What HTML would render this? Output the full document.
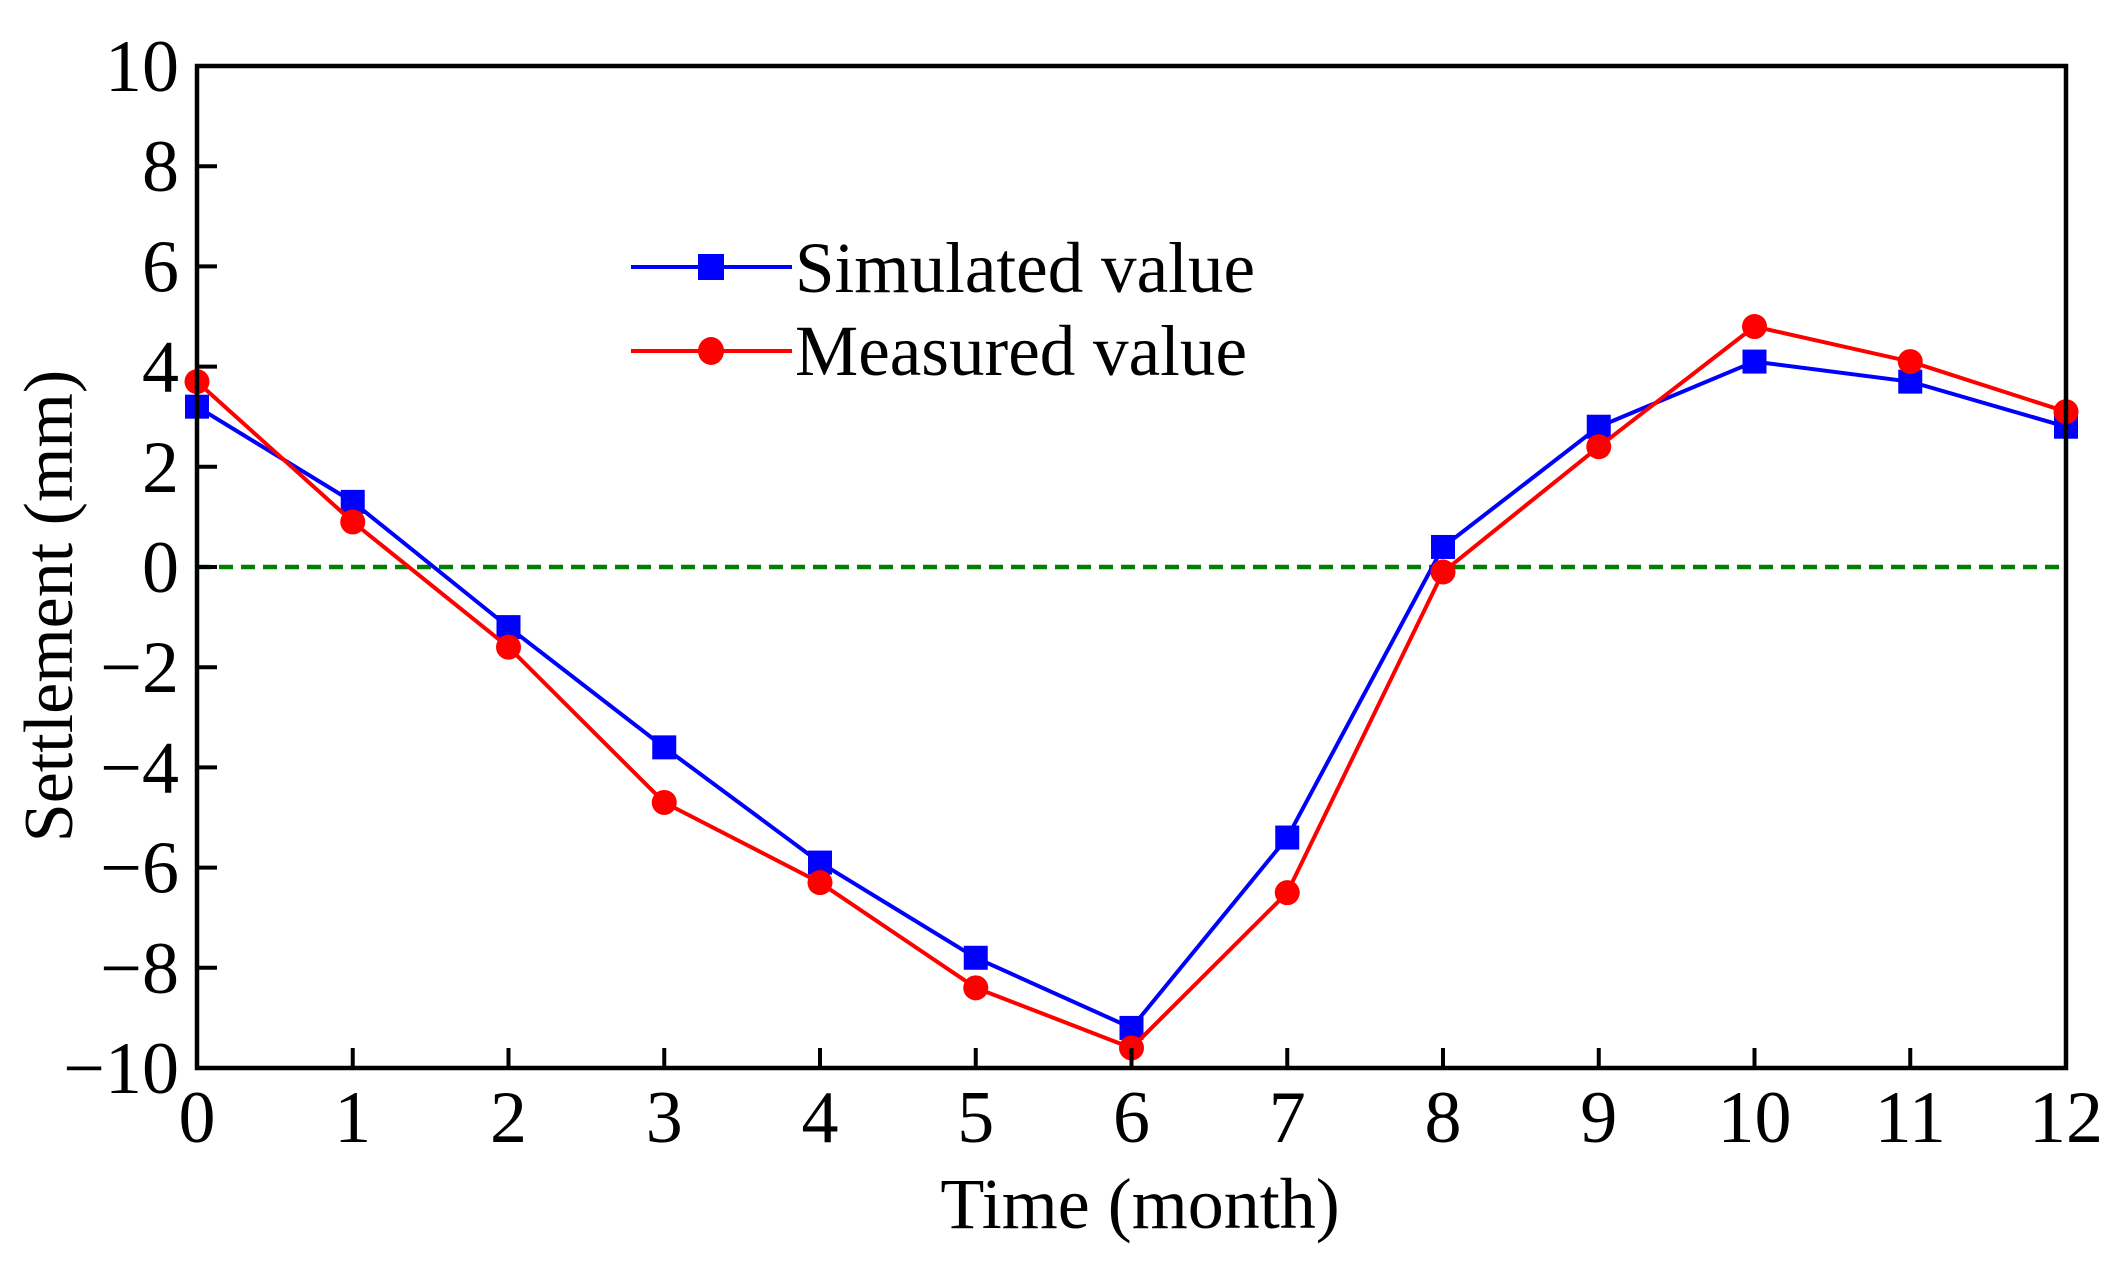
<!DOCTYPE html>
<html><head><meta charset="utf-8"><style>
html,body{margin:0;padding:0;background:#fff}
svg{display:block}
text{font-family:"Liberation Serif",serif;fill:#000}
</style></head><body>
<svg id="chart" width="2128" height="1270" viewBox="0 0 2128 1270" xmlns="http://www.w3.org/2000/svg">
<g id="grid"></g>
<g id="series"></g>
<g id="axes"></g>
<g>
 <g>
  <line x1="631" y1="267" x2="792" y2="267" stroke="#0000ff" stroke-width="4"/>
  <rect x="698" y="254" width="26" height="26" fill="#0000ff"/>
  <text x="795" y="292" font-size="72" textLength="460" lengthAdjust="spacingAndGlyphs">Simulated value</text>
 </g>
 <g>
  <line x1="631" y1="351" x2="792" y2="351" stroke="#ff0000" stroke-width="4"/>
  <ellipse cx="711" cy="351" rx="13" ry="14" fill="#ff0000"/>
  <text x="795" y="375" font-size="72" textLength="452" lengthAdjust="spacingAndGlyphs">Measured value</text>
 </g>
</g>
<text x="1140" y="1228" font-size="72" text-anchor="middle">Time (month)</text>
<text transform="translate(72,606) rotate(-90)" font-size="70" text-anchor="middle">Settlement (mm)</text>
</svg>
<script>
const months=[0,1,2,3,4,5,6,7,8,9,10,11,12];
const simulated=[3.2,1.3,-1.2,-3.6,-5.9,-7.8,-9.2,-5.4,0.4,2.8,4.1,3.7,2.8];
const measured=[3.7,0.9,-1.6,-4.7,-6.3,-8.4,-9.6,-6.5,-0.1,2.4,4.8,4.1,3.1];
const xTicks=[0,1,2,3,4,5,6,7,8,9,10,11,12];
const yTicks=[-10,-8,-6,-4,-2,0,2,4,6,8,10];
const yTickLabels=["\u221210","\u22128","\u22126","\u22124","\u22122","0","2","4","6","8","10"];

const L=197,R=2066,T=66,B=1068;
const xs=v=>L+(v-0)/(12-0)*(R-L);
const ys=v=>B-(v+10)/20*(B-T);
const NS="http://www.w3.org/2000/svg";
function mk(tag,attrs,parent){const e=document.createElementNS(NS,tag);for(const k in attrs)e.setAttribute(k,attrs[k]);parent.appendChild(e);return e;}
const axes=document.getElementById('axes'),series=document.getElementById('series'),grid=document.getElementById('grid');

const zero=mk('line',{x1:L,x2:R,y1:ys(0),y2:ys(0),stroke:'#008000','stroke-width':4.5,'stroke-dasharray':'14 8'},grid);



function drawSeries(vals,color,kind,name){
 const g=mk('g',{},series);
 
 
 const pts=vals.map((v,i)=>xs(months[i])+','+ys(v)).join(' ');
 const pl=mk('polyline',{points:pts,fill:'none',stroke:color,'stroke-width':4,'stroke-linejoin':'round'},g);
 
 
 vals.forEach((v,i)=>{
  let m;
  if(kind==='square') m=mk('rect',{x:xs(months[i])-12,y:ys(v)-12,width:24,height:24,fill:color},g);
  else m=mk('ellipse',{cx:xs(months[i]),cy:ys(v),rx:12.5,ry:12.5,fill:color},g);
  
  
 });
}
drawSeries(simulated,'#0000ff','square','simulated');
drawSeries(measured,'#ff0000','circle','measured');

const frame=mk('rect',{x:L,y:T,width:R-L,height:B-T,fill:'none',stroke:'#000','stroke-width':4.5},axes);


xTicks.forEach(v=>{
 const t=mk('line',{x1:xs(v),x2:xs(v),y1:B,y2:B-20,stroke:'#000','stroke-width':4},axes);
 
 
 const lb=mk('text',{x:xs(v),y:B+74,'font-size':74,'text-anchor':'middle'},axes);
 lb.textContent=v;
 
 
});
yTicks.forEach((v,i)=>{
 const t=mk('line',{x1:L,x2:L+20,y1:ys(v),y2:ys(v),stroke:'#000','stroke-width':4},axes);
 
 
 const lb=mk('text',{x:L-18,y:ys(v)+25,'font-size':74,'text-anchor':'end'},axes);
 lb.textContent=yTickLabels[i];
 
 
});
</script>
</body></html>
